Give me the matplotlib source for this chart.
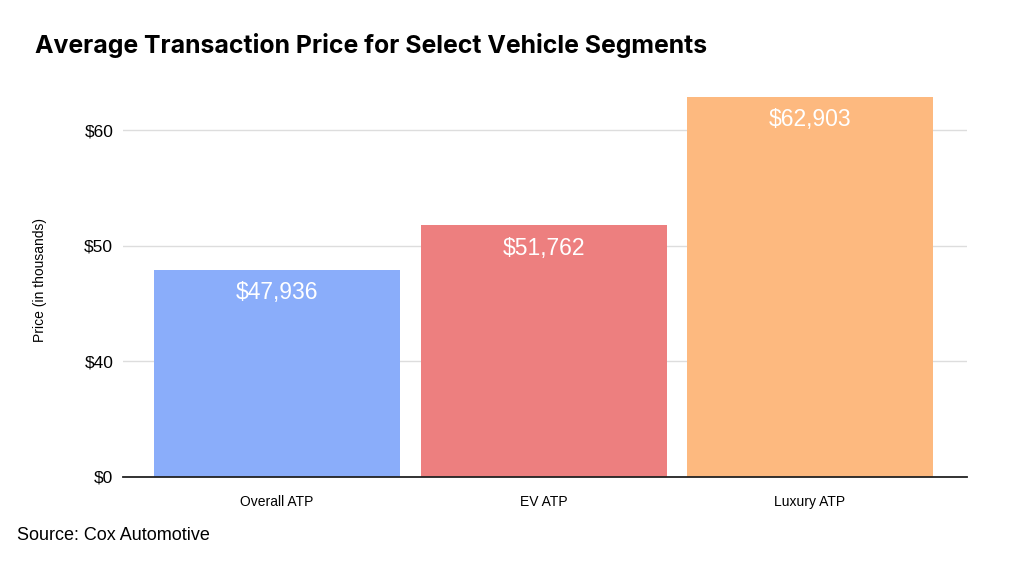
import numpy as np
import matplotlib
matplotlib.use("Agg")
import matplotlib.pyplot as plt

categories = ["Overall ATP", "EV ATP", "Luxury ATP"]
prices = [47.936, 51.762, 62.903]
value_labels = ["$47,936", "$51,762", "$62,903"]
tick_values = [0, 40, 50, 60]
tick_labels = ["$0", "$40", "$50", "$60"]
colors = ["#8aadfa", "#ed7f7f", "#fdb97f"]

plt.rcParams['font.family'] = ['Liberation Sans', 'DejaVu Sans']

def fwd(v):
    v = np.asarray(v, dtype=float)
    return np.where(v <= 40, v / 4.0, v - 30.0)

def inv(t):
    t = np.asarray(t, dtype=float)
    return np.where(t <= 10, t * 4.0, t + 30.0)

fig = plt.figure(figsize=(10.24, 5.65), dpi=100)
ax = fig.add_axes([123/1024, 1-477/565, (967-123)/1024, (477-84)/565])
ax.set_yscale('function', functions=(fwd, inv))

x = np.arange(len(categories))
bars = ax.bar(x, prices, width=0.923, color=colors, zorder=2)
ax.set_xlim(-0.578, 2.589)
ax.set_ylim(0, 64)

for xi, p, lab in zip(x, prices, value_labels):
    ax.annotate(lab, (xi, p), xytext=(0, -16.5), textcoords='offset points',
                ha='center', va='center', color='white', fontsize=16.5, zorder=3)

ax.set_yticks(tick_values)
ax.set_yticklabels(tick_labels, fontsize=12.5)
ax.set_xticks(x)
ax.set_xticklabels(categories, fontsize=10)
ax.tick_params(axis='both', length=0)
ax.tick_params(axis='y', pad=7)
ax.tick_params(axis='x', pad=13)
ax.yaxis.grid(True, color='#dddddd', linewidth=1, zorder=0)
ax.set_axisbelow(True)
for s in ['top', 'right', 'left']:
    ax.spines[s].set_visible(False)
ax.spines['bottom'].set_color('#222222')
ax.spines['bottom'].set_linewidth(1.3)
ax.spines['bottom'].set_zorder(4)

ax.set_ylabel("Price (in thousands)", fontsize=10, labelpad=27)

fig.text(35/1024, 1-46/565, "Average Transaction Price for Select Vehicle Segments",
         fontsize=17.9, fontweight='bold', family=['Inter', 'DejaVu Sans'],
         ha='left', va='center')
fig.text(17/1024, 1-536/565, "Source: Cox Automotive", fontsize=13,
         ha='left', va='center')

fig.savefig("out.png", dpi=100)
